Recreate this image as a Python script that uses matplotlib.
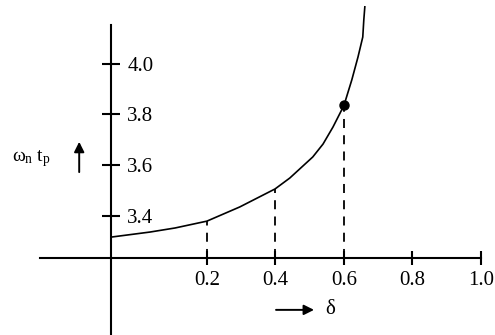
import matplotlib
matplotlib.use('Agg')
import matplotlib.pyplot as plt

# Curve values (tick units)
delta = [-0.080, 0.034, 0.107, 0.200, 0.296, 0.399, 0.442, 0.509, 0.539, 0.568,
         0.600, 0.623, 0.641, 0.655, 0.658, 0.661]
wt = [3.316, 3.336, 3.352, 3.379, 3.435, 3.506, 3.549, 3.632, 3.683, 3.750,
      3.835, 3.936, 4.026, 4.105, 4.172, 4.224]

# marked point and dashed guide lines
mark_delta = [0.6]
mark_wt = [3.835]
guide_delta = [0.2, 0.4, 0.6]
guide_top = [3.379, 3.506, 3.835]

xticks = [0.2, 0.4, 0.6, 0.8, 1.0]
xlabels = ['0.2', '0.4', '0.6', '0.8', '1.0']
yticks = [3.4, 3.6, 3.8, 4.0]
ylabels = ['3.4', '3.6', '3.8', '4.0']

x_axis_at = 3.234
y_axis_at = -0.08

plt.rcParams['font.family'] = ['Liberation Serif', 'DejaVu Serif']
plt.rcParams['mathtext.fontset'] = 'stix'

fig = plt.figure(figsize=(4.95, 3.35), dpi=100)
ax = fig.add_axes([0, 0, 1, 1])
ax.set_xlim(-0.404, 1.041)
ax.set_ylim(2.930, 4.251)

ax.plot(delta, wt, color='black', lw=1.2, zorder=3, solid_joinstyle='round')
ax.plot(mark_delta, mark_wt, 'o', color='black', ms=6.5, zorder=4)
ax.vlines(guide_delta, x_axis_at, guide_top, colors='black', lw=1.3,
          linestyles=(0, (5, 4)), zorder=2)

for s in ['left', 'top']:
    ax.spines[s].set_visible(False)
ax.spines['bottom'].set_position(('data', x_axis_at))
ax.spines['bottom'].set_bounds(-0.288, 1.0)
ax.spines['bottom'].set_linewidth(1.5)
ax.spines['right'].set_position(('data', y_axis_at))
ax.spines['right'].set_bounds(2.930, 4.153)
ax.spines['right'].set_linewidth(1.5)

ax.xaxis.set_ticks_position('bottom')
ax.yaxis.set_ticks_position('right')
ax.set_xticks(xticks)
ax.set_xticklabels(xlabels)
ax.set_yticks(yticks)
ax.set_yticklabels(ylabels)
ax.tick_params(axis='x', direction='inout', length=9.5, width=1.5, pad=5, labelsize=15)
ax.tick_params(axis='y', direction='inout', length=13.5, width=1.5, pad=5, labelsize=15)

# axis captions with arrows
ax.text(0.064, 0.528, r'$\mathregular{ω_n\ t_p}$', transform=ax.transAxes,
        ha='center', va='center', fontsize=14)
ax.annotate('', xy=(0.160, 0.585), xytext=(0.160, 0.478), xycoords='axes fraction',
            textcoords='axes fraction',
            arrowprops=dict(arrowstyle='-|>', color='black', lw=1.4, mutation_scale=15))
ax.annotate('', xy=(0.640, 0.075), xytext=(0.552, 0.075), xycoords='axes fraction',
            textcoords='axes fraction',
            arrowprops=dict(arrowstyle='-|>', color='black', lw=1.4, mutation_scale=15))
ax.text(0.668, 0.075, 'δ', transform=ax.transAxes, ha='center', va='center', fontsize=15)

fig.savefig('out.png', dpi=100)
